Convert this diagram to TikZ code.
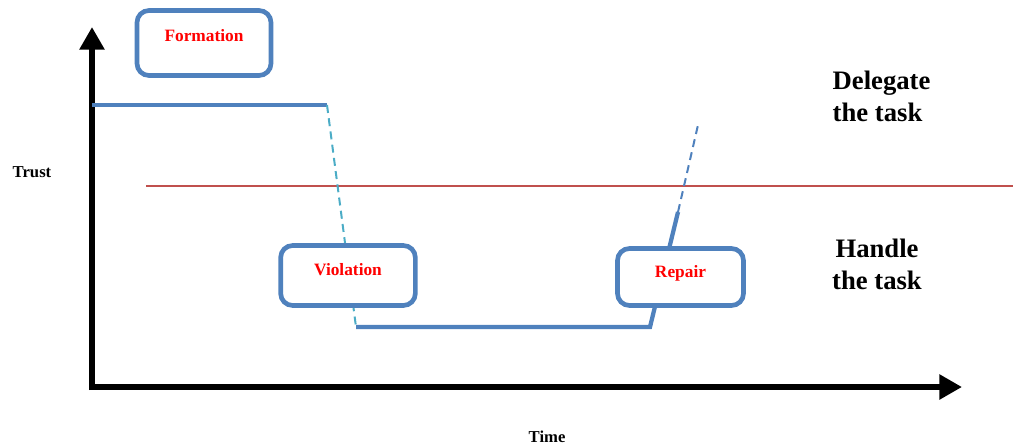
\documentclass[tikz,border=0pt]{standalone}
\usepackage{fontspec}
\setmainfont{Liberation Serif}
\usetikzlibrary{arrows.meta}
\definecolor{boxblue}{HTML}{4F81BD}
\definecolor{dashcyan}{HTML}{4BACC6}
\definecolor{limitred}{HTML}{C0504D}
\tikzset{
  stagebox/.style={draw=boxblue, line width=3.5pt, fill=white, rounded corners=9pt,
    text=red, font=\fontsize{13pt}{15pt}\selectfont\bfseries,
    text height=9pt, text depth=8pt, inner sep=0pt},
  trustline/.style={draw=boxblue, line width=3.2pt},
  axisline/.style={line width=4.5pt, -{Triangle[length=17pt,width=18pt]}},
  zonetext/.style={font=\fontsize{20pt}{24pt}\selectfont\bfseries},
  axistext/.style={font=\fontsize{12.5pt}{14pt}\selectfont\bfseries, anchor=base west}
}
\begin{document}
\begin{tikzpicture}[x=0.75pt,y=-0.75pt]
 \useasboundingbox (0,0) rectangle (1013,446);
 % axes
 \coordinate (origin) at (92,387);
 \coordinate (ytip) at (92,27);
 \coordinate (xtip) at (962,387);
 \draw[axisline] (92,390) -- (ytip);
 \draw[axisline] (origin) -- (xtip);
 \node[axistext] (trust) at (8,177) {Trust};
 \node[axistext] (time) at (524,442) {Time};

 % threshold
 \coordinate (lim0) at (146,186);
 \coordinate (lim1) at (1013,186);
 \draw[limitred, line width=1.5pt] (lim0) -- (lim1);
 \node[zonetext, align=left, anchor=north west] (delegate) at (828,66) {Delegate\\the task};
 \node[zonetext, align=center, anchor=north] (handle) at (877,234) {Handle\\the task};

 % trust curve
 \coordinate (f0) at (92,105);
 \coordinate (f1) at (327,105);
 \coordinate (v0) at (356,327);
 \coordinate (v1) at (650,327);
 \coordinate (r1) at (678,212);
 \coordinate (r2) at (698,125);
 \draw[trustline] (f0) -- (f1);
 \draw[dashcyan, line width=1.5pt, dash pattern=on 6pt off 4pt] (f1) -- (v0);
 \draw[trustline] (v0) -- (v1) -- (r1);
 \draw[boxblue, line width=1.5pt, dash pattern=on 6pt off 4pt] (r1) -- (r2);

 % stages
 \node[stagebox, minimum width=100.5pt, minimum height=48.75pt, text depth=12pt] (formation) at (204,43) {Formation};
 \node[stagebox, minimum width=101pt, minimum height=45pt, text depth=8.5pt] (violation) at (348,275.5) {Violation};
 \node[stagebox, minimum width=94.5pt, minimum height=42.75pt] (repair) at (680.5,277) {Repair};
\end{tikzpicture}
\end{document}
